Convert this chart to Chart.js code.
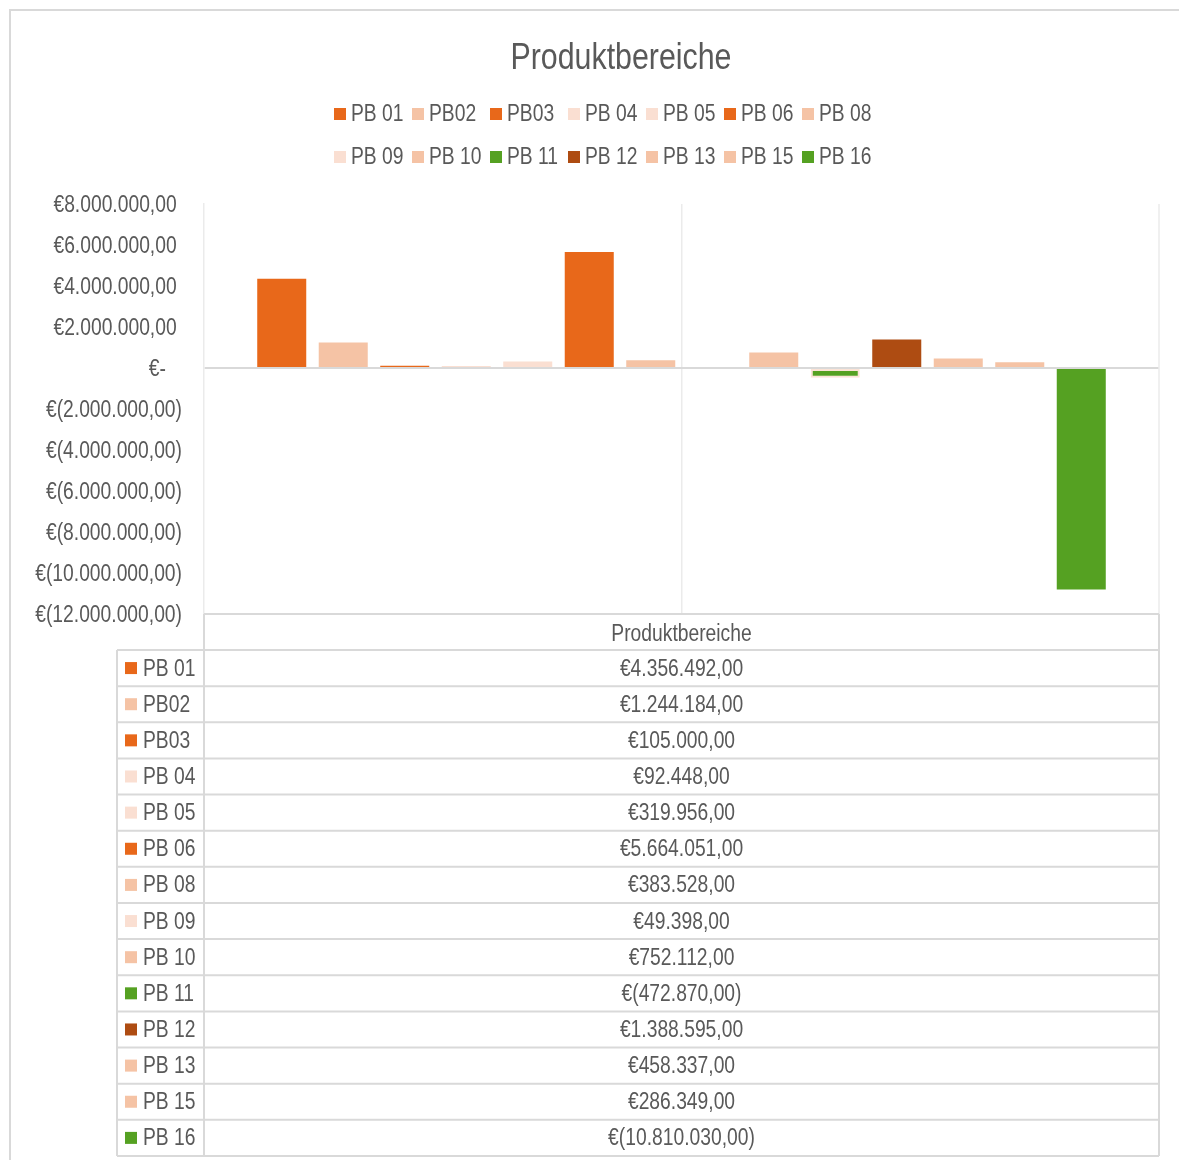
<!DOCTYPE html>
<html>
<head>
<meta charset="utf-8">
<script src="https://cdn.jsdelivr.net/npm/chart.js@4/dist/chart.umd.min.js"></script>
<style>
  html, body { margin: 0; padding: 0; background: #ffffff; }
  #wrap { position: relative; width: 1179px; height: 1160px; }
</style>
</head>
<body>
<div id="wrap"><canvas id="c" width="1179" height="1160"></canvas></div>
<script>
// ---------- data ----------
const chartTitle = 'Produktbereiche';
const categories = ['Produktbereiche'];
const seriesNames = ['PB 01', 'PB02', 'PB03', 'PB 04', 'PB 05', 'PB 06', 'PB 08',
                     'PB 09', 'PB 10', 'PB 11', 'PB 12', 'PB 13', 'PB 15', 'PB 16'];
const seriesValues = [4356492, 1244184, 105000, 92448, 319956, 5664051, 383528,
                      49398, 752112, -472870, 1388595, 458337, 286349, -10810030];
const seriesColors = ['#E8681A', '#F5C3A5', '#E8681A', '#FADFD2', '#FADFD2', '#E8681A', '#F5C3A5',
                      '#FADFD2', '#F5C3A5', '#55A122', '#AE4C12', '#F5C3A5', '#F5C3A5', '#55A122'];
const yAxisMin = -12000000;
const yAxisMax = 8000000;
const yAxisStep = 2000000;

// ---------- style ----------
const FONT = "'Liberation Sans Narrow', 'Arial Narrow', 'Liberation Sans', Arial, sans-serif";
const TEXT = '#595959';
const LINE = '#D9D9D9';
const NARROW = 0.82; // horizontal condensing to imitate a narrow face

function euro(v) {
  const abs = Math.abs(v);
  if (abs === 0) return '€-';
  const parts = abs.toFixed(2).split('.');
  const intPart = parts[0].replace(/\B(?=(\d{3})+(?!\d))/g, '.');
  const s = intPart + ',' + parts[1];
  return v < 0 ? '€(' + s + ')' : '€' + s;
}
function tickLabel(v) {
  if (v === 0) return '€-   ';
  if (v > 0) return euro(v) + ' ';
  return euro(v);
}

// condensed text rendering on this canvas (text stays real text)
const canvas = document.getElementById('c');
const c2d = canvas.getContext('2d');
const origFillText = c2d.fillText;
c2d.fillText = function (t, x, y, mw) {
  const w = this.measureText(t).width * NARROW;
  return origFillText.call(this, t, x, y, mw !== undefined ? Math.min(mw, w) : w);
};

const decorPlugin = {
  id: 'decor',
  beforeDraw(chart) {
    const ctx = chart.ctx;
    ctx.save();
    ctx.fillStyle = '#ffffff';
    ctx.fillRect(0, 0, chart.width, chart.height);
    ctx.restore();
  },
  afterDraw(chart) {
    const ctx = chart.ctx;
    const area = chart.chartArea;
    ctx.save();
    // outer chart border
    ctx.strokeStyle = LINE;
    ctx.lineWidth = 2;
    ctx.beginPath();
    ctx.moveTo(10, chart.height + 5);
    ctx.lineTo(10, 10);
    ctx.lineTo(chart.width + 5, 10);
    ctx.stroke();

    // title
    ctx.fillStyle = TEXT;
    ctx.font = '37px ' + FONT;
    ctx.textAlign = 'center';
    ctx.textBaseline = 'middle';
    ctx.fillText(chartTitle, 621, 59);

    // legend (2 rows x 7)
    ctx.font = '23.5px ' + FONT;
    ctx.textAlign = 'left';
    chart.data.datasets.forEach((ds, i) => {
      const row = Math.floor(i / 7), col = i % 7;
      const bx = 334 + col * 78;
      const cy = 114 + row * 43;
      ctx.fillStyle = ds.backgroundColor;
      ctx.fillRect(bx, cy - 6, 12, 12);
      ctx.fillStyle = TEXT;
      ctx.fillText(ds.label, bx + 17, cy + 1);
    });

    // plot right edge
    ctx.strokeStyle = '#EBEBEB';
    ctx.lineWidth = 1.5;
    ctx.beginPath();
    ctx.moveTo(area.right, area.top);
    ctx.lineTo(area.right, area.bottom);
    ctx.stroke();

    // data table
    const tLeft = 117;
    const headTop = area.bottom;
    const headH = 36;
    const rowsTop = headTop + headH;
    const rowH = 36.14;
    const n = chart.data.datasets.length;
    const tBottom = rowsTop + n * rowH;
    ctx.strokeStyle = LINE;
    ctx.lineWidth = 2;
    ctx.beginPath();
    ctx.moveTo(area.left, headTop); ctx.lineTo(area.right, headTop);
    for (let i = 0; i <= n; i++) {
      const y = rowsTop + i * rowH;
      ctx.moveTo(tLeft, y); ctx.lineTo(area.right, y);
    }
    ctx.moveTo(tLeft, rowsTop); ctx.lineTo(tLeft, tBottom);
    ctx.moveTo(area.left, headTop); ctx.lineTo(area.left, tBottom);
    ctx.moveTo(area.right, headTop); ctx.lineTo(area.right, tBottom);
    ctx.stroke();

    const cx = (area.left + area.right) / 2;
    ctx.fillStyle = TEXT;
    ctx.font = '23.5px ' + FONT;
    ctx.textAlign = 'center';
    ctx.fillText(chart.data.labels[0], cx, headTop + headH / 2 + 3);
    chart.data.datasets.forEach((ds, i) => {
      const cy = rowsTop + i * rowH + rowH / 2;
      ctx.fillStyle = ds.backgroundColor;
      ctx.fillRect(tLeft + 8, cy - 6, 12, 12);
      ctx.fillStyle = TEXT;
      ctx.textAlign = 'left';
      ctx.fillText(ds.label, tLeft + 26, cy + 1);
      ctx.textAlign = 'center';
      ctx.fillText(euro(ds.data[0]), cx, cy + 1);
    });
    ctx.restore();
  }
};

const datasets = seriesNames.map((name, i) => ({
  label: name,
  data: [seriesValues[i]],
  backgroundColor: seriesColors[i],
  borderColor: name === 'PB 11' ? '#FBE3D6' : seriesColors[i],
  borderWidth: name === 'PB 11' ? 2 : 0,
  borderSkipped: false,
  categoryPercentage: 0.9016,
  barPercentage: 0.797
}));

new Chart(canvas, {
  type: 'bar',
  data: { labels: categories, datasets: datasets },
  plugins: [decorPlugin],
  options: {
    responsive: false,
    animation: false,
    devicePixelRatio: 1,
    layout: { padding: { left: 20, right: 20, top: 204, bottom: 546 } },
    plugins: {
      legend: { display: false },
      title: { display: false },
      tooltip: { enabled: false }
    },
    scales: {
      x: {
        grid: { offset: false, color: '#EBEBEB', lineWidth: 1.5, drawTicks: false },
        border: { display: false },
        ticks: { display: false },
        afterFit(s) { s.height = 0; }
      },
      y: {
        min: yAxisMin,
        max: yAxisMax,
        ticks: {
          stepSize: yAxisStep,
          padding: 22,
          labelOffset: 2,
          color: TEXT,
          font: { family: FONT, size: 23.5 },
          callback: (v) => tickLabel(v)
        },
        grid: {
          drawTicks: false,
          lineWidth: 2,
          color: (c) => (c.tick && c.tick.value === 0 ? LINE : 'rgba(0,0,0,0)')
        },
        border: { display: true, color: '#EBEBEB', width: 1.5 },
        afterFit(s) { s.width = 184; }
      }
    }
  }
});
</script>
</body>
</html>
